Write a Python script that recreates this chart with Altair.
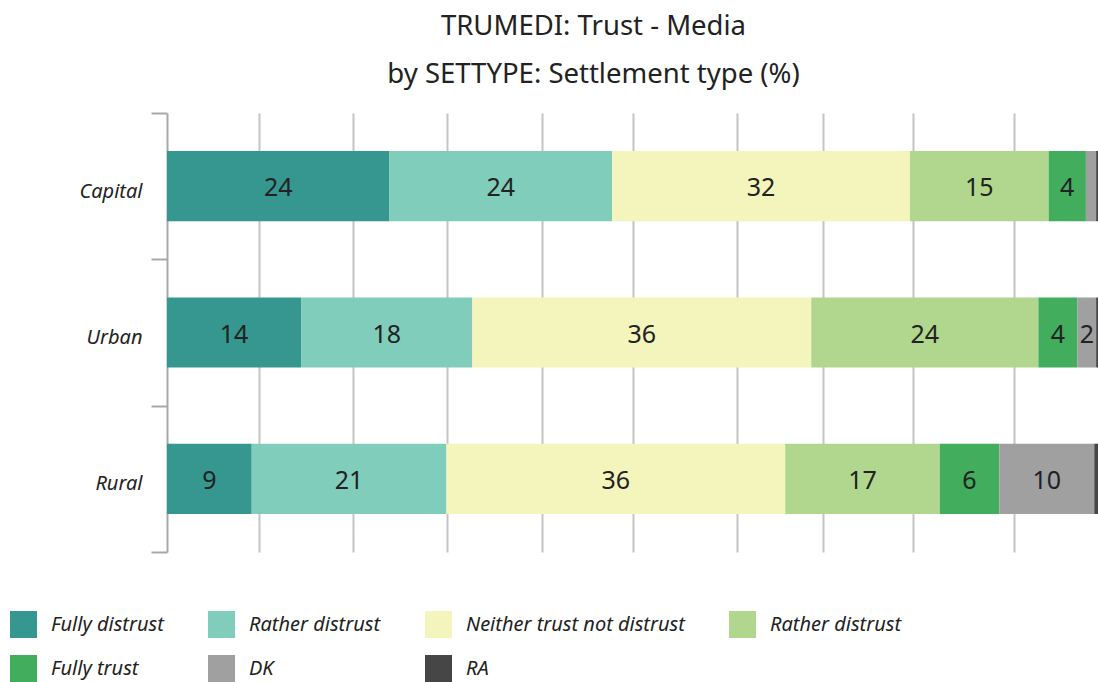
import altair as alt
import pandas as pd

FONT = "Noto Sans"

settlements = ["Capital", "Urban", "Rural"]
categories = ["Fully distrust", "Rather distrust", "Neither trust not distrust",
              "Rather trust", "Fully trust", "DK", "RA"]
legend_labels = ["Fully distrust", "Rather distrust", "Neither trust not distrust",
                 "Rather distrust", "Fully trust", "DK", "RA"]
colors = ["#35978f", "#80cdbc", "#f4f4bd", "#b1d78e", "#41ad5d", "#a0a0a0", "#464646"]

capital = [23.9, 23.9, 32.0, 14.9, 4.0, 1.1, 0.25]
urban = [14.4, 18.4, 36.4, 24.4, 4.2, 2.0, 0.2]
rural = [9.1, 20.9, 36.4, 16.6, 6.4, 10.2, 0.4]

grid_values = [9.9, 20.0, 30.1, 40.3, 50.1, 61.2, 70.5, 80.1, 91.0]

rows = []
for s, vals in zip(settlements, [capital, urban, rural]):
    for i, (c, v) in enumerate(zip(categories, vals)):
        rows.append({"settlement": s, "category": c, "order": i, "value": v})
df = pd.DataFrame(rows)

label_map = " : ".join(
    f"datum.label == '{c}' ? '{l}'" for c, l in zip(categories, legend_labels)
) + " : datum.label"

base = alt.Chart(df).transform_stack(
    stack="value", groupby=["settlement"], as_=["x0", "x1"],
    sort=[alt.SortField("order")]
).transform_calculate(
    mid="(datum.x0 + datum.x1) / 2",
    label="datum.value >= 1.5 ? '' + round(datum.value) : ''"
)

y_enc = alt.Y(
    "settlement:N", sort=settlements, title=None,
    scale=alt.Scale(paddingInner=0, paddingOuter=0),
    axis=alt.Axis(
        tickBand="extent", domainColor="#a8a8a8", domainWidth=2,
        tickColor="#a8a8a8", tickWidth=2, tickSize=16,
        labelFontSize=20, labelFontStyle="italic", labelColor="#222222",
        labelFont=FONT, labelPadding=9, labelOffset=5, grid=False,
    ),
)

x_scale = alt.Scale(domain=[0, 100], nice=False)

bars = base.mark_bar(height={"band": 0.48}).encode(
    x=alt.X("x0:Q", scale=x_scale,
            axis=alt.Axis(values=grid_values, grid=True, gridColor="#c4c4c4",
                          gridWidth=2, labels=False, ticks=False, domain=False,
                          title=None)),
    x2="x1:Q",
    y=y_enc,
    color=alt.Color(
        "category:N",
        scale=alt.Scale(domain=categories, range=colors),
        legend=alt.Legend(
            title=None, orient="none", legendX=-157, legendY=498,
            direction="horizontal", columns=4, columnPadding=44, rowPadding=17,
            symbolType="square", symbolSize=729, symbolStrokeWidth=0,
            symbolOpacity=1, labelFontSize=20, labelFontStyle="italic",
            labelFont=FONT, labelColor="#222222", labelOffset=14,
            labelLimit=400, labelExpr=label_map,
        ),
    ),
    order=alt.Order("order:Q"),
)

texts = base.mark_text(fontSize=25, color="#222222", font=FONT,
                       align="center", baseline="middle", dy=2).encode(
    x=alt.X("mid:Q", scale=x_scale),
    y=y_enc,
    text="label:N",
)

chart = alt.layer(bars, texts).properties(
    width=931, height=439,
    autosize=alt.AutoSizeParams(type="none"),
    padding={"left": 167, "top": 113, "right": 0, "bottom": 130},
    title=alt.Title(
        "TRUMEDI: Trust - Media",
        subtitle="by SETTYPE: Settlement type (%)",
        font=FONT, fontSize=27.5, fontWeight="normal", color="#222222",
        subtitleFont=FONT, subtitleFontSize=27.5, subtitleColor="#222222",
        subtitlePadding=20, anchor="middle", frame="group", dx=-39, offset=15,
    ),
).configure_view(stroke=None)

chart.save("out.html", embed_options={"renderer": "svg", "actions": False})
